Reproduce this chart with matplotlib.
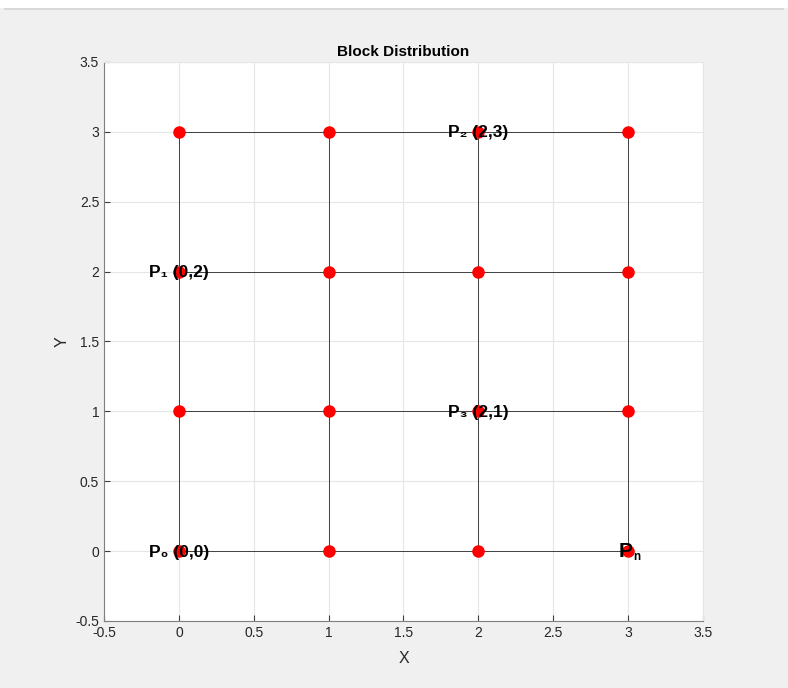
import matplotlib.pyplot as plt
import matplotlib.patches as patches

plt.rcParams['font.family'] = ['Liberation Sans', 'DejaVu Sans']

xs = [0, 1, 2, 3]
ys = [0, 1, 2, 3]
labels = ['P\u2080 (0,0)', 'P\u2081 (0,2)', 'P\u2082 (2,3)', 'P\u2083 (2,1)']
label_pts = [(0, 0), (0, 2), (2, 3), (2, 1)]
ticks = [-0.5, 0, 0.5, 1, 1.5, 2, 2.5, 3, 3.5]
tick_labels = ['-0.5', '0', '0.5', '1', '1.5', '2', '2.5', '3', '3.5']

fig = plt.figure(figsize=(7.88, 6.88), dpi=100)
fig.patch.set_facecolor('#f0f0f0')
# white strip at the top of the window
fig.add_artist(patches.Rectangle((0, 0.988), 1, 0.012, transform=fig.transFigure,
                                 facecolor='white', edgecolor='none'))
fig.add_artist(patches.Rectangle((0.005, 0.985), 0.99, 0.003, transform=fig.transFigure,
                                 facecolor='#d8d8d8', edgecolor='none'))

ax = fig.add_axes([0.132, 0.0974, 0.76, 0.8126])
ax.set_facecolor('white')

for y in ys:
    ax.plot([xs[0], xs[-1]], [y, y], color='#404040', lw=0.7, zorder=2)
for x in xs:
    ax.plot([x, x], [ys[0], ys[-1]], color='#404040', lw=0.7, zorder=2)

px = [x for y in ys for x in xs]
py = [y for y in ys for x in xs]
ax.plot(px, py, 'o', color='#ff0000', markersize=8, linestyle='none', zorder=3)

for lab, (x, y) in zip(labels, label_pts):
    ax.text(x, y - 0.008, lab, ha='center', va='center', fontsize=12.5, fontweight='bold', zorder=4)
ax.text(3.033, -0.005, 'P', ha='right', va='center', fontsize=15, fontweight='bold', zorder=4)
ax.text(3.033, -0.04, 'n', ha='left', va='center', fontsize=8.5, fontweight='bold', zorder=4)

ax.set_xlim(-0.5, 3.5)
ax.set_ylim(-0.5, 3.5)
ax.set_xticks(ticks)
ax.set_yticks(ticks)
ax.set_xticklabels(tick_labels)
ax.set_yticklabels(tick_labels)
ax.grid(True, color='#e6e6e6', lw=0.8, zorder=0)
ax.set_axisbelow(True)
ax.tick_params(direction='in', length=4, color='#404040', labelsize=10, labelcolor='#262626',
               top=False, right=False)
for s in ax.spines.values():
    s.set_color('#808080')
    s.set_linewidth(0.8)
ax.spines['top'].set_color('#e6e6e6')
ax.spines['right'].set_color('#e6e6e6')

ax.set_xlabel('X', fontsize=11.5, color='#262626', labelpad=8)
ax.set_ylabel('Y', fontsize=11.5, color='#262626', labelpad=4)
ax.set_title('Block Distribution', fontsize=11, fontweight='bold', color='#000000', pad=4)

fig.savefig('out.png', dpi=100, facecolor=fig.get_facecolor())
